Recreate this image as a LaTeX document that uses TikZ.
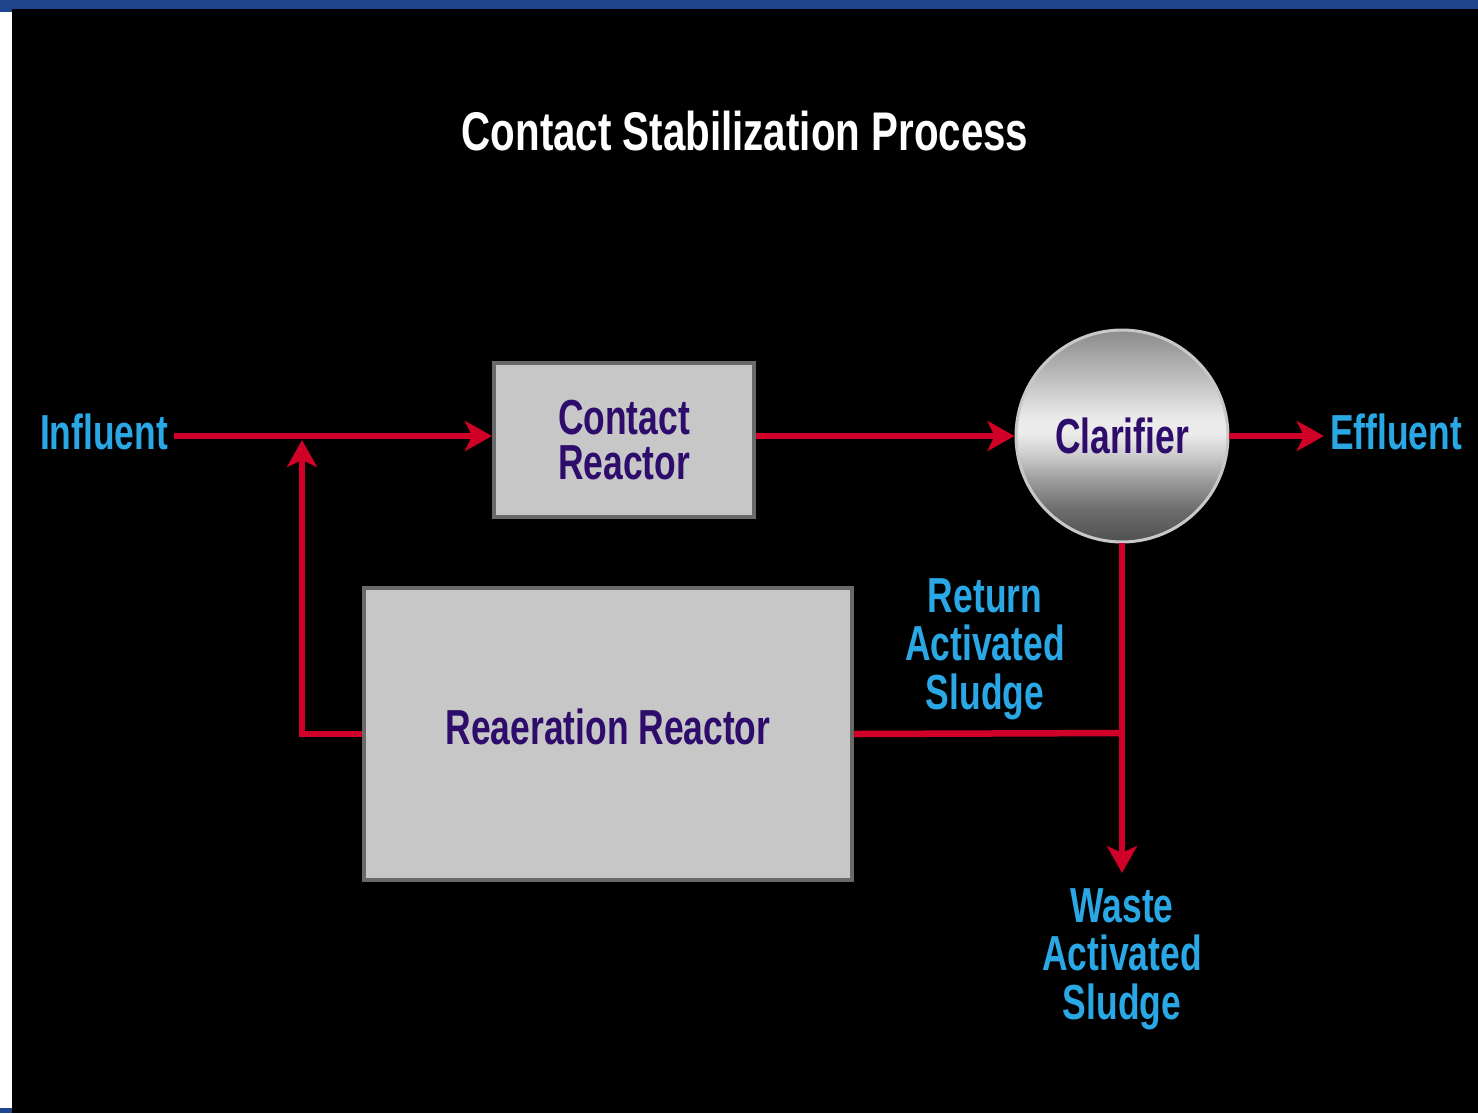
\documentclass[tikz,border=0pt]{standalone}
\usepackage{fontspec}
\newfontfamily\diagfont[FakeStretch=0.72]{Liberation Sans}
\newfontfamily\titlefont[FakeStretch=0.74]{Liberation Sans}
\usetikzlibrary{arrows.meta}

\definecolor{flowred}{RGB}{208,0,40}
\definecolor{streamblue}{RGB}{42,168,230}
\definecolor{boxpurple}{RGB}{46,12,108}
\definecolor{boxgray}{RGB}{199,199,199}
\definecolor{edgegray}{RGB}{105,105,105}
\definecolor{barblue}{RGB}{31,70,140}
\definecolor{ringgray}{RGB}{200,200,200}
\definecolor{clA}{RGB}{80,80,80}
\definecolor{clB}{RGB}{108,108,108}
\definecolor{clC}{RGB}{156,156,156}
\definecolor{clD}{RGB}{204,204,204}
\definecolor{clE}{RGB}{235,235,235}
\definecolor{clF}{RGB}{222,222,222}
\definecolor{clG}{RGB}{192,192,192}
\definecolor{clH}{RGB}{155,155,155}
\definecolor{clI}{RGB}{140,140,140}

\pgfdeclareverticalshading{clarifiershade}{100bp}{%
	color(0bp)=(clA); color(25bp)=(clA); color(32.5bp)=(clB);
	color(39.6bp)=(clC); color(45.5bp)=(clD); color(50.5bp)=(clE);
	color(54bp)=(clE); color(57bp)=(clF); color(63.2bp)=(clG);
	color(71.5bp)=(clH); color(75bp)=(clI); color(100bp)=(clI)}

\begin{document}
\begin{tikzpicture}[
			x=0.02cm, y=-0.02cm,
			>={Stealth[length=0.54cm,width=0.6cm,inset=0.14cm]},
			flow/.style       = {draw=flowred, line width=0.13cm},
			stream/.style     = {text=streamblue, align=center,
			                     font=\diagfont\bfseries\fontsize{28}{27.5}\selectfont},
			reactor/.style    = {draw=edgegray, line width=0.08cm, fill=boxgray,
			                     text=boxpurple, align=center, inner sep=0pt,
			                     font=\diagfont\bfseries\fontsize{28}{25.5}\selectfont}
			]
			%--- frame ---
			\fill[black] (0,0) rectangle (1478,1113);
			\fill[white] (0,12) rectangle (12,1108);
			\fill[barblue] (0,0) rectangle (1478,9);
			\fill[barblue] (0,0) rectangle (12,12);
			\fill[barblue] (0,1108) rectangle (12,1113);

			%--- nodes ---
			\node[text=white, font=\titlefont\bfseries\fontsize{31}{33}\selectfont]
				(title) at (745,131) {Contact Stabilization Process};
			\node[stream] (influent) at (104,432) {Influent};
			\node[stream] (effluent) at (1396,432) {Effluent};
			\node[reactor, minimum width=5.2cm, minimum height=3.1cm]
				(contact) at (624,440) {Contact\\Reactor};
			\node[reactor, minimum width=9.76cm, minimum height=5.84cm, text depth=0.28cm]
				(reaeration) at (608,734) {Reaeration Reactor};
			\node[circle, draw=ringgray, line width=0.06cm, shading=clarifiershade,
				minimum size=4.24cm, text=boxpurple,
				font=\diagfont\bfseries\fontsize{28}{28}\selectfont]
				(clarifier) at (1122,436) {Clarifier};
			\node[stream] (rasLabel) at (985,649) {Return\\Activated\\Sludge};
			\node[stream] (wasLabel) at (1122,959) {Waste\\Activated\\Sludge};

			\coordinate (recycle) at (302,440);
			\coordinate (rasJoin) at (1122,733);
			\coordinate (wasEnd)  at (1122,873);

			%--- flow lines (arrows) ---
			\draw[flow,->] (influent.east |- clarifier) -- (contact.west |- clarifier);
			\draw[flow,->] (contact.east |- clarifier) -- (clarifier.west);
			\draw[flow,->] (clarifier.east) -- (effluent.west |- clarifier);
			\draw[flow,->] (clarifier.south) -- (wasEnd);
			\draw[flow] (reaeration.east) -- (rasJoin);
			\draw[flow,->] (reaeration.west) -| (recycle);
		\end{tikzpicture}
\end{document}
